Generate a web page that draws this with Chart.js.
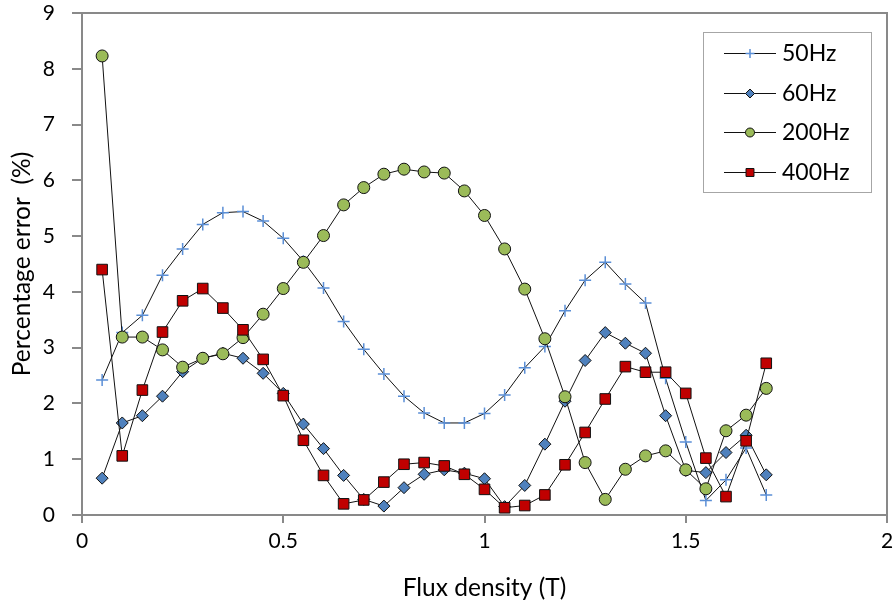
<!DOCTYPE html>
<html>
<head>
<meta charset="utf-8">
<script src="https://cdn.jsdelivr.net/npm/chart.js@4.4.1/dist/chart.umd.min.js"></script>
<style>
  html, body { margin: 0; padding: 0; background: #fff; }
</style>
</head>
<body>
<canvas id="chart" width="896" height="604"></canvas>
<script>
// ── Measured error vs flux density ──────────────────────────────────────────
const flux = [0.05, 0.1, 0.15, 0.2, 0.25, 0.3, 0.35, 0.4, 0.45, 0.5, 0.55, 0.6,
              0.65, 0.7, 0.75, 0.8, 0.85, 0.9, 0.95, 1.0, 1.05, 1.1, 1.15, 1.2,
              1.25, 1.3, 1.35, 1.4, 1.45, 1.5, 1.55, 1.6, 1.65, 1.7]

const err50  = [2.42, 3.27, 3.58, 4.30, 4.77, 5.21, 5.42, 5.44, 5.27, 4.96, 4.55, 4.07,
                3.47, 2.97, 2.53, 2.13, 1.83, 1.65, 1.65, 1.82, 2.15, 2.64, 3.02, 3.66,
                4.21, 4.53, 4.14, 3.80, 2.45, 1.31, 0.26, 0.63, 1.20, 0.36]
const err60  = [0.66, 1.65, 1.78, 2.13, 2.57, 2.81, 2.90, 2.81, 2.54, 2.18, 1.63, 1.19,
                0.71, 0.28, 0.16, 0.49, 0.73, 0.81, 0.75, 0.65, 0.15, 0.53, 1.27, 2.04,
                2.77, 3.27, 3.08, 2.90, 1.78, 0.80, 0.76, 1.12, 1.43, 0.72]
const err200 = [8.23, 3.19, 3.19, 2.96, 2.65, 2.81, 2.89, 3.18, 3.60, 4.06, 4.53, 5.01,
                5.56, 5.87, 6.11, 6.20, 6.15, 6.13, 5.81, 5.37, 4.77, 4.05, 3.16, 2.12,
                0.94, 0.28, 0.82, 1.06, 1.15, 0.81, 0.47, 1.51, 1.79, 2.27]
const err400 = [4.40, 1.06, 2.24, 3.28, 3.84, 4.06, 3.71, 3.32, 2.79, 2.14, 1.34, 0.71,
                0.20, 0.27, 0.59, 0.91, 0.94, 0.88, 0.73, 0.46, 0.13, 0.17, 0.36, 0.90,
                1.48, 2.08, 2.66, 2.56, 2.56, 2.18, 1.02, 0.33, 1.33, 2.72]

const seriesNames = ['50Hz', '60Hz', '200Hz', '400Hz']

const axisGrey = '#898989'
const ink      = '#000'
const family   = "Lato, 'Liberation Sans', sans-serif"

Chart.defaults.font.family = family
Chart.defaults.font.size   = 21
Chart.defaults.color       = ink

const pts = ys => ys.map((y, i) => ({ x: flux[i], y }))

// ── Plot frame (top + right edges of the plot area) ─────────────────────────
const frame = {
  id: 'frame',
  beforeDatasetsDraw(chart) {
    const { ctx, chartArea: a } = chart
    ctx.save()
    ctx.strokeStyle = axisGrey
    ctx.lineWidth = 2
    ctx.beginPath()
    ctx.moveTo(a.left, a.top)
    ctx.lineTo(a.right, a.top)
    ctx.lineTo(a.right, a.bottom)
    ctx.stroke()
    ctx.restore()
  },
}

// ── Boxed legend with line + marker samples ─────────────────────────────────
const boxLegend = {
  id: 'boxLegend',
  afterDraw(chart) {
    const { ctx, chartArea: a } = chart
    const w = 168, h = 160
    const x0 = a.right - 16 - w
    const y0 = a.top + 19
    ctx.save()
    ctx.fillStyle = '#fff'
    ctx.fillRect(x0, y0, w, h)
    ctx.strokeStyle = '#a6a6a6'
    ctx.lineWidth = 1
    ctx.strokeRect(x0 + 0.5, y0 + 0.5, w, h)

    chart.data.datasets.forEach((ds, i) => {
      const y = Math.round(y0 + 21 + i * 39.5) + 0.5
      ctx.strokeStyle = ds.borderColor
      ctx.lineWidth = 1
      ctx.beginPath()
      ctx.moveTo(x0 + 21, y)
      ctx.lineTo(x0 + 73, y)
      ctx.stroke()

      ctx.fillStyle = ds.pointBackgroundColor
      ctx.strokeStyle = ds.pointBorderColor
      ctx.lineWidth = ds.pointBorderWidth
      Chart.helpers.drawPoint(ctx, {
        pointStyle: ds.pointStyle,
        radius: ds.pointRadius * 0.75,
        rotation: 0,
        borderWidth: ds.pointBorderWidth,
      }, x0 + 47, y)

      ctx.fillStyle = ink
      ctx.font = '23px ' + family
      ctx.textBaseline = 'middle'
      ctx.textAlign = 'left'
      ctx.fillText(ds.label, x0 + 79, y)
    })
    ctx.restore()
  },
}

const line = { borderColor: '#111', borderWidth: 1, tension: 0, fill: false }

new Chart(document.getElementById('chart'), {
  type: 'line',
  data: {
    datasets: [
      { ...line, label: seriesNames[0], data: pts(err50), order: 4,
        pointStyle: 'cross', pointRadius: 6, pointBorderWidth: 1.5,
        pointBackgroundColor: '#5b8fd6', pointBorderColor: '#5b8fd6' },
      { ...line, label: seriesNames[1], data: pts(err60), order: 3,
        pointStyle: 'rectRot', pointRadius: 6, pointBorderWidth: 1,
        pointBackgroundColor: '#4f81bd', pointBorderColor: '#111' },
      { ...line, label: seriesNames[2], data: pts(err200), order: 2,
        pointStyle: 'circle', pointRadius: 6, pointBorderWidth: 1,
        pointBackgroundColor: '#9bbb59', pointBorderColor: '#111' },
      { ...line, label: seriesNames[3], data: pts(err400), order: 1,
        pointStyle: 'rect', pointRadius: 7.5, pointBorderWidth: 1,
        pointBackgroundColor: '#c00000', pointBorderColor: '#111' },
    ],
  },
  options: {
    responsive: false,
    animation: false,
    layout: { padding: { top: 13, right: 9, left: 0, bottom: 0 } },
    plugins: {
      legend: { display: false },
      tooltip: { enabled: false },
    },
    scales: {
      x: {
        type: 'linear',
        min: 0, max: 2,
        afterFit: s => { s.height = 89; s.paddingLeft = 0; s.paddingRight = 0 },
        ticks: { stepSize: 0.5, padding: 6, maxRotation: 0, color: ink, callback: v => String(v) },
        grid: { drawOnChartArea: false, drawTicks: true, tickLength: 8, color: axisGrey, lineWidth: 2 },
        border: { color: axisGrey, width: 2 },
        title: { display: true, text: 'Flux density (T)', color: ink, font: { size: 24.5 },
                 padding: { top: 0, bottom: 1 } },
      },
      y: {
        min: 0, max: 9,
        afterFit: s => { s.width = 82; s.paddingTop = 0; s.paddingBottom = 0 },
        ticks: { stepSize: 1, padding: 17, color: ink },
        grid: { drawOnChartArea: false, drawTicks: true, tickLength: 10, color: axisGrey, lineWidth: 2 },
        border: { color: axisGrey, width: 2 },
        title: { display: true, text: 'Percentage error  (%)', color: ink, font: { size: 24.5 },
                 padding: { top: 7, bottom: 0 } },
      },
    },
  },
  plugins: [frame, boxLegend],
})
</script>
</body>
</html>
